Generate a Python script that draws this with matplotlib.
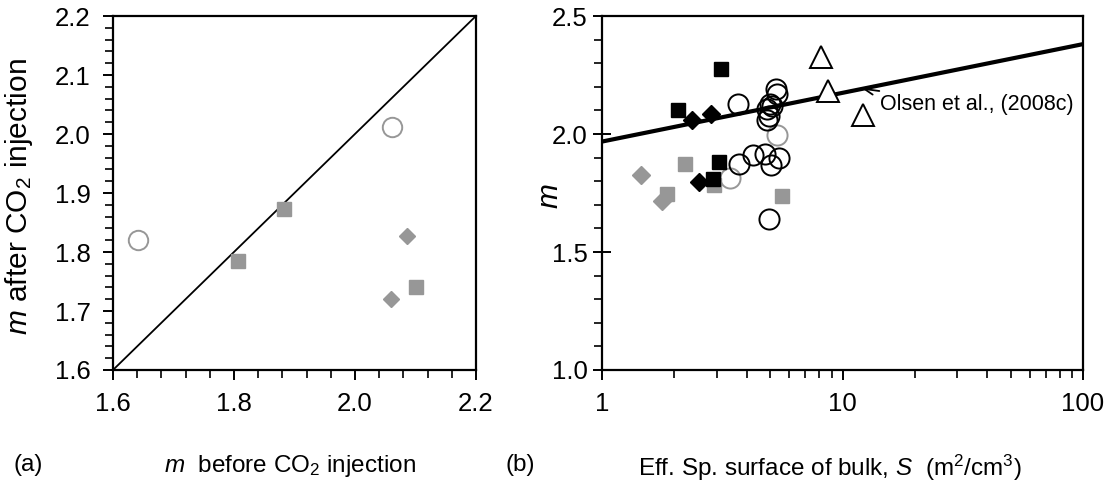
import numpy as np
import matplotlib
matplotlib.use("Agg")
import matplotlib.pyplot as plt
from matplotlib.ticker import (MultipleLocator, FixedLocator, FixedFormatter,
                               NullFormatter, LogLocator, FormatStrFormatter)

plt.rcParams['font.family'] = ['Liberation Sans', 'DejaVu Sans']
plt.rcParams['mathtext.fontset'] = 'custom'
plt.rcParams['mathtext.rm'] = 'Liberation Sans'
plt.rcParams['mathtext.it'] = 'Liberation Sans:italic'

GREY = '#979797'

# (a) m before / after CO2 injection
a_circle_before = [1.641, 2.061]
a_circle_after = [1.820, 2.012]
a_square_before = [1.807, 1.883, 2.101]
a_square_after = [1.785, 1.873, 1.741]
a_diamond_before = [2.086, 2.059]
a_diamond_after = [1.827, 1.720]
one_to_one = [1.6, 2.2]

# (b) m vs effective specific surface S
grey_circle_S = [3.40, 5.35]
grey_circle_m = [1.812, 1.996]
grey_diamond_S = [1.45, 1.78]
grey_diamond_m = [1.828, 1.715]
grey_square_S = [2.21, 1.87, 2.92, 5.62]
grey_square_m = [1.875, 1.744, 1.783, 1.737]
black_circle_S = [3.66, 3.72, 4.25, 4.74, 5.45, 5.03, 4.95,
                  5.27, 5.35, 4.99, 5.10, 4.87, 4.94, 4.84]
black_circle_m = [2.128, 1.872, 1.912, 1.915, 1.899, 1.869, 1.641,
                  2.190, 2.171, 2.128, 2.117, 2.105, 2.078, 2.058]
black_diamond_S = [2.36, 2.85, 2.53]
black_diamond_m = [2.060, 2.083, 1.797]
black_square_S = [3.12, 2.07, 3.07, 2.88]
black_square_m = [2.277, 2.100, 1.882, 1.809]
triangle_S = [8.10, 8.73, 12.2]
triangle_m = [2.327, 2.181, 2.079]
olsen_S = [1, 100]
olsen_m = [1.968, 2.381]

fig = plt.figure(figsize=(11.13, 4.93), dpi=100)
ax1 = fig.add_axes([0.1015, 0.2495, 0.3261, 0.718])
ax2 = fig.add_axes([0.5409, 0.2495, 0.4322, 0.718])

TICK_FS = 18.5
LABEL_FS = 17.5

# --- panel (a)
ax1.plot(one_to_one, one_to_one, color='black', lw=1.3, zorder=1)
ax1.plot(a_circle_before, a_circle_after, 'o', ms=14, mfc='none', mec=GREY, mew=1.4, ls='none')
ax1.plot(a_square_before, a_square_after, 's', ms=9.5, color=GREY, ls='none')
ax1.plot(a_diamond_before, a_diamond_after, 'D', ms=8.5, color=GREY, ls='none')
ax1.set_xlim(1.6, 2.2)
ax1.set_ylim(1.6, 2.2)
ax1.xaxis.set_major_locator(MultipleLocator(0.2))
ax1.xaxis.set_minor_locator(MultipleLocator(0.04))
ax1.yaxis.set_major_locator(MultipleLocator(0.1))
ax1.yaxis.set_minor_locator(MultipleLocator(0.02))
ax1.xaxis.set_major_formatter(FormatStrFormatter('%.1f'))
ax1.yaxis.set_major_formatter(FormatStrFormatter('%.1f'))
ax1.set_xlabel(r'$m$  before CO$_2$ injection', fontsize=LABEL_FS)
ax1.set_ylabel(r'$m$ after CO$_2$ injection', fontsize=21.5)
ax1.xaxis.set_label_coords(0.488, -0.235)
ax1.yaxis.set_label_coords(-0.215, 0.49)
ax1.tick_params(which='major', direction='out', length=7, width=1.4,
                labelsize=TICK_FS, pad=9)
ax1.tick_params(which='minor', direction='out', length=5.5, width=1.2)

# --- panel (b)
ax2.plot(olsen_S, olsen_m, color='black', lw=3, zorder=1)
ax2.plot(grey_circle_S, grey_circle_m, 'o', ms=14.5, mfc='none', mec=GREY, mew=1.4, ls='none')
ax2.plot(grey_diamond_S, grey_diamond_m, 'D', ms=9, color=GREY, ls='none')
ax2.plot(grey_square_S, grey_square_m, 's', ms=9.5, color=GREY, ls='none')
ax2.plot(black_circle_S, black_circle_m, 'o', ms=14.5, mfc='none', mec='black', mew=1.4, ls='none')
ax2.plot(black_diamond_S, black_diamond_m, 'D', ms=9, color='black', ls='none')
ax2.plot(black_square_S, black_square_m, 's', ms=9.5, color='black', ls='none')
ax2.plot(triangle_S, triangle_m, '^', ms=16, mfc='white', mec='black', mew=1.4, ls='none')
ax2.annotate('Olsen et al., (2008c)', xy=(12.1, 2.192), xytext=(14.3, 2.126),
             fontsize=15.5, va='center', ha='left',
             arrowprops=dict(arrowstyle='->', color='black', lw=1.3,
                             shrinkA=0, shrinkB=0, mutation_scale=16))
ax2.set_xscale('log')
ax2.set_xlim(1, 100)
ax2.set_ylim(1.0, 2.5)
ax2.xaxis.set_major_locator(FixedLocator([1, 10, 100]))
ax2.xaxis.set_major_formatter(FixedFormatter(['1', '10', '100']))
ax2.xaxis.set_minor_locator(LogLocator(base=10, subs=np.arange(2, 10)))
ax2.xaxis.set_minor_formatter(NullFormatter())
ax2.yaxis.set_major_locator(MultipleLocator(0.5))
ax2.yaxis.set_minor_locator(MultipleLocator(0.1))
ax2.yaxis.set_major_formatter(FormatStrFormatter('%.1f'))
ax2.set_xlabel(r'Eff. Sp. surface of bulk, $S$  (m$^2$/cm$^3$)', fontsize=LABEL_FS)
ax2.set_ylabel(r'$m$', fontsize=21.5)
ax2.xaxis.set_label_coords(0.474, -0.235)
ax2.yaxis.set_label_coords(-0.08, 0.49)
ax2.tick_params(axis='y', which='major', direction='inout', length=13, width=1.4)
ax2.tick_params(axis='x', which='major', direction='out', length=7, width=1.4)
ax2.tick_params(which='major', labelsize=TICK_FS, pad=9)
ax2.tick_params(axis='y', which='major', pad=4)
ax2.tick_params(which='minor', direction='out', length=6, width=1.2)

for ax in (ax1, ax2):
    for sp in ax.spines.values():
        sp.set_linewidth(1.6)

fig.text(0.025, 0.057, '(a)', fontsize=LABEL_FS, ha='center', va='center')
fig.text(0.467, 0.057, '(b)', fontsize=LABEL_FS, ha='center', va='center')

fig.savefig('out.png', dpi=100)
